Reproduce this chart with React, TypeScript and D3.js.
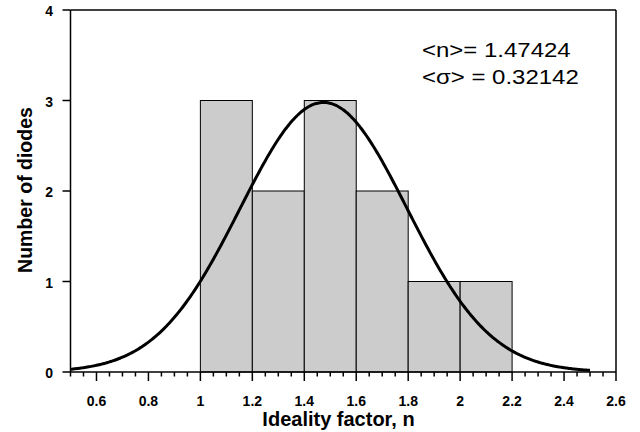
import React from "react";
import * as d3 from "d3";

// Histogram of ideality factors (bin start, bin width 0.2) and counts
const binStarts = [1.0, 1.2, 1.4, 1.6, 1.8, 2.0];
const binWidth = 0.2;
const counts = [3, 2, 3, 2, 1, 1];

// Gaussian fit parameters
const meanN = 1.47424;
const sigmaN = 0.32142;
const fitRange = [0.5, 2.5];

const xMajorTicks = [0.6, 0.8, 1.0, 1.2, 1.4, 1.6, 1.8, 2.0, 2.2, 2.4, 2.6];
const yTicks = [0, 1, 2, 3, 4];

const W = 640;
const H = 432;
const FONT = "'Liberation Sans', Arial, Helvetica, sans-serif";

export default function App() {
  const x = d3.scaleLinear().domain([0.5, 2.6]).range([70.5, 616]);
  const y = d3.scaleLinear().domain([0, 4]).range([372, 10]);

  const total = d3.sum(counts);
  const amp = (total * binWidth) / (sigmaN * Math.sqrt(2 * Math.PI));
  const gauss = (v: number) => amp * Math.exp(-((v - meanN) ** 2) / (2 * sigmaN ** 2));
  const curvePts = d3.range(fitRange[0], fitRange[1] + 1e-9, 0.005).map((v) => [v, gauss(v)] as [number, number]);
  const line = d3
    .line<[number, number]>()
    .x((d) => x(d[0]))
    .y((d) => y(d[1]))
    .curve(d3.curveBasis);

  const minorTicks = d3
    .range(0.5, 2.6 + 1e-9, 0.05)
    .filter((v) => !xMajorTicks.some((m) => Math.abs(m - v) < 1e-6));

  const [x0, x1] = x.range();
  const [yb, yt] = y.range();

  return (
    <svg width={W} height={H} style={{ position: "absolute", left: 0, top: 0, background: "#fff" }}>
      {/* histogram bars */}
      {binStarts.map((b, i) => (
        <rect
          key={b}
          x={x(b)}
          y={y(counts[i])}
          width={x(b + binWidth) - x(b)}
          height={y(0) - y(counts[i])}
          fill="#cccccc"
          stroke="#000"
          strokeWidth={1}
        />
      ))}

      {/* fitted Gaussian */}
      <path d={line(curvePts) || ""} fill="none" stroke="#000" strokeWidth={3} />

      {/* frame */}
      <line x1={x0} x2={x1} y1={yb} y2={yb} stroke="#000" strokeWidth={1.5} />
      <line x1={x0} x2={x0} y1={yb} y2={yt} stroke="#000" strokeWidth={1.5} />
      <line x1={x0} x2={x1} y1={yt} y2={yt} stroke="#000" strokeWidth={1.5} />
      <line x1={x1} x2={x1} y1={yb} y2={yt} stroke="#000" strokeWidth={1.5} />

      {/* x ticks */}
      {minorTicks.map((v) => (
        <line key={"m" + v} x1={x(v)} x2={x(v)} y1={yb} y2={yb + 4.5} stroke="#000" strokeWidth={1.5} />
      ))}
      {xMajorTicks.map((v) => (
        <g key={"M" + v}>
          <line x1={x(v)} x2={x(v)} y1={yb} y2={yb + 9} stroke="#000" strokeWidth={1.5} />
          <text
            x={x(v)}
            y={406}
            textAnchor="middle"
            fontFamily={FONT}
            fontWeight="bold"
            fontSize={14}
            fill="#000"
          >
            {d3.format("~g")(v)}
          </text>
        </g>
      ))}

      {/* y ticks */}
      {yTicks.map((v) => (
        <g key={"y" + v}>
          <line x1={x0 - 8} x2={x0} y1={y(v)} y2={y(v)} stroke="#000" strokeWidth={1.5} />
          <text
            x={53}
            y={y(v) + 6}
            textAnchor="end"
            fontFamily={FONT}
            fontWeight="bold"
            fontSize={14}
            fill="#000"
          >
            {v}
          </text>
        </g>
      ))}

      {/* axis titles */}
      <text
        x={338.5}
        y={425.5}
        textAnchor="middle"
        fontFamily={FONT}
        fontWeight="bold"
        fontSize={20}
        fill="#000"
      >
        Ideality factor, n
      </text>
      <text
        transform={`translate(31.5, 190) rotate(-90)`}
        textAnchor="middle"
        fontFamily={FONT}
        fontWeight="bold"
        fontSize={19.5}
        fill="#000"
      >
        Number of diodes
      </text>

      {/* fit annotation (wide-set face) */}
      <g transform="translate(422, 0) scale(1.23, 1)">
        <text x={0} y={56.7} fontFamily={FONT} fontSize={19.5} fill="#000">
          {"<n>= " + meanN.toFixed(5)}
        </text>
        <text x={0} y={84.5} fontFamily={FONT} fontSize={19.5} fill="#000">
          {"<σ> = " + sigmaN.toFixed(5)}
        </text>
      </g>
    </svg>
  );
}
